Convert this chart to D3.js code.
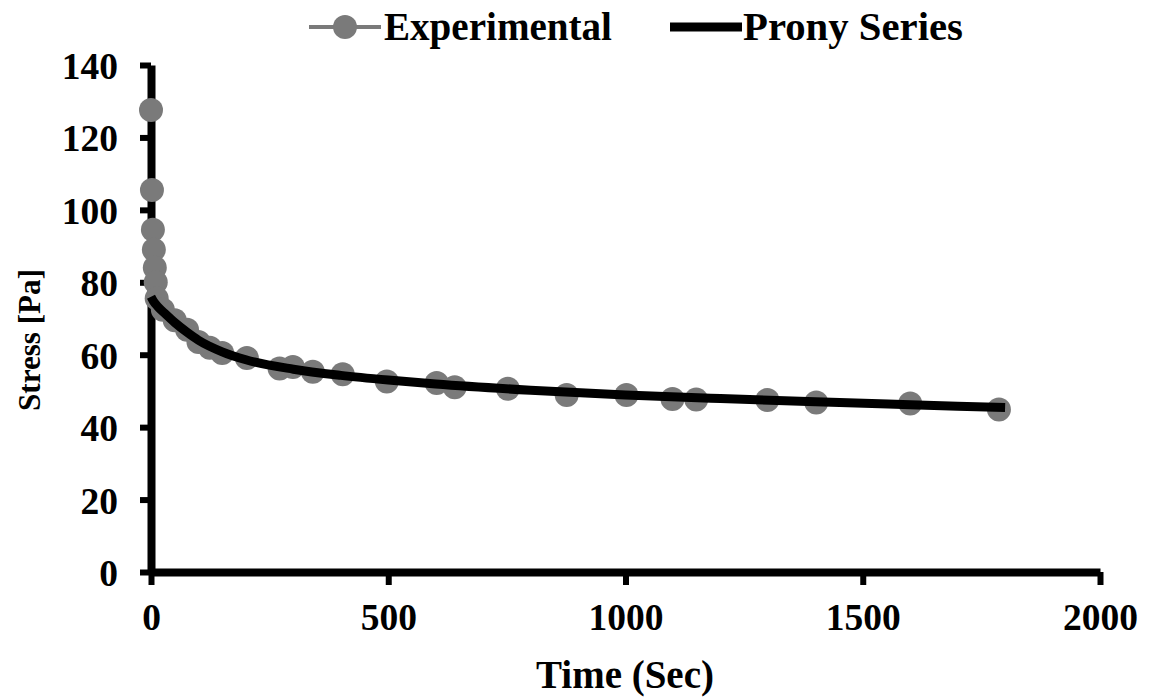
<!DOCTYPE html>
<html>
<head>
<meta charset="utf-8">
<script src="https://cdn.jsdelivr.net/npm/d3@7"></script>
<style>
  body { margin: 0; background: #fff; }
  svg text { font-family: "Liberation Serif", "Tinos", "Times New Roman", "DejaVu Serif", serif; font-weight: bold; fill: #000; }
</style>
</head>
<body>
<div id="the_chart"></div>
<script>
// experimental stress relaxation points
var expTime   = [0, 2, 4, 6, 8, 10, 12, 25, 50, 76, 100, 124, 150, 202, 271, 299, 341, 404, 497, 602, 640, 752, 876, 1002, 1099, 1149, 1299, 1402, 1600, 1787];
var expStress = [127.6, 105.5, 94.5, 89, 84, 80, 75.5, 72.4, 69.5, 66.9, 63.5, 61.9, 60.5, 59.1, 56.2, 56.6, 55.3, 54.6, 52.6, 52.2, 51.0, 50.6, 48.9, 48.9, 47.8, 47.6, 47.5, 46.8, 46.5, 44.9];

// prony series fit
var pronyTime   = [0, 5, 15, 30, 50, 75, 100, 150, 200, 300, 400, 500, 600, 800, 1000, 1200, 1400, 1600, 1800];
var pronyStress = [76, 74.8, 73.2, 71.3, 68.9, 66.3, 64, 60.8, 58.6, 56, 54.3, 53, 51.9, 50.2, 48.9, 47.9, 47, 46.2, 45.4];

var xTicks = [0, 500, 1000, 1500, 2000];
var yTicks = [0, 20, 40, 60, 80, 100, 120, 140];
var seriesNames = ["Experimental", "Prony Series"];

var w = 1149, h = 700;
var svg = d3.select("#the_chart").append("svg")
    .attr("width", w)
    .attr("height", h);

var xscale = d3.scaleLinear().domain([0, 2000]).range([151, 1100]);
var yscale = d3.scaleLinear().domain([0, 140]).range([572, 65]);

var markerGray = "#7a7a7a";
var serif = "'Liberation Serif', 'Tinos', 'Times New Roman', 'DejaVu Serif', serif";

// shrink/grow a text so that it spans the width seen in the picture
function fitText(sel, target) {
    var len = sel.node().getComputedTextLength();
    var fs = parseFloat(sel.style("font-size"));
    sel.style("font-size", (fs * target / len) + "px");
}

// axes
var yaxis = d3.axisLeft(yscale).tickValues(yTicks).tickSizeInner(11).tickSizeOuter(0).tickPadding(22);
var xaxis = d3.axisBottom(xscale).tickValues(xTicks).tickSizeInner(13).tickSizeOuter(0).tickPadding(18)
    .tickFormat(d3.format("d"));

var gY = svg.append("g")
    .attr("transform", "translate(151,0)")
    .call(yaxis);
var gX = svg.append("g")
    .attr("transform", "translate(0,572)")
    .call(xaxis);

[gX, gY].forEach(function(g) {
    g.attr("font-family", null).attr("font-size", null);
    g.select(".domain").attr("stroke", "#000").attr("stroke-width", 8);
    g.selectAll(".tick line").attr("stroke", "#000").attr("stroke-width", 6);
    g.selectAll(".tick text")
        .style("font-family", serif)
        .style("font-weight", "bold")
        .style("font-size", "36px")
        .attr("fill", "#000");
});
gY.selectAll(".tick text").attr("dy", "0.36em");

// size tick labels from the "1000" label (about 75px wide)
var probe = gX.selectAll(".tick text").filter(function(d) { return d === 1000; });
fitText(probe, 75);
var tickFs = probe.style("font-size");
gX.selectAll(".tick text").style("font-size", tickFs);
gY.selectAll(".tick text").style("font-size", tickFs);

var pronyData = pronyTime.map(function(t, i) { return {t: t, s: pronyStress[i]}; });
var expData = expTime.map(function(t, i) { return {t: t, s: expStress[i]}; });

// markers first, line over them
svg.selectAll("circle.exp")
    .data(expData)
  .enter().append("circle")
    .attr("class", "exp")
    .attr("r", 12)
    .attr("fill", markerGray)
    .attr("cx", function(d) { return xscale(d.t); })
    .attr("cy", function(d) { return yscale(d.s); });

var line = d3.line()
    .x(function(d) { return xscale(d.t); })
    .y(function(d) { return yscale(d.s); })
    .curve(d3.curveMonotoneX);

svg.append("path")
    .datum(pronyData)
    .attr("d", line)
    .attr("fill", "none")
    .attr("stroke", "#000")
    .attr("stroke-width", 9);

// axis titles
var xt = svg.append("text")
    .attr("x", 625).attr("y", 688)
    .attr("text-anchor", "middle")
    .style("font-size", "38px")
    .text("Time (Sec)");
fitText(xt, 178);

var yt = svg.append("text")
    .attr("transform", "translate(40,340) rotate(-90)")
    .attr("text-anchor", "middle")
    .style("font-size", "33px")
    .text("Stress [Pa]");
fitText(yt, 142);

// legend
var leg = svg.append("g");
leg.append("line")
    .attr("x1", 309).attr("x2", 381).attr("y1", 27).attr("y2", 27)
    .attr("stroke", markerGray).attr("stroke-width", 4);
leg.append("circle")
    .attr("cx", 345).attr("cy", 27).attr("r", 12)
    .attr("fill", markerGray);
var l1 = leg.append("text")
    .attr("x", 384).attr("y", 40)
    .style("font-size", "38px")
    .text(seriesNames[0]);
fitText(l1, 228);
leg.append("line")
    .attr("x1", 670).attr("x2", 742).attr("y1", 27).attr("y2", 27)
    .attr("stroke", "#000").attr("stroke-width", 9);
var l2 = leg.append("text")
    .attr("x", 743).attr("y", 40)
    .style("font-size", "38px")
    .text(seriesNames[1]);
fitText(l2, 220);
</script>
</body>
</html>
